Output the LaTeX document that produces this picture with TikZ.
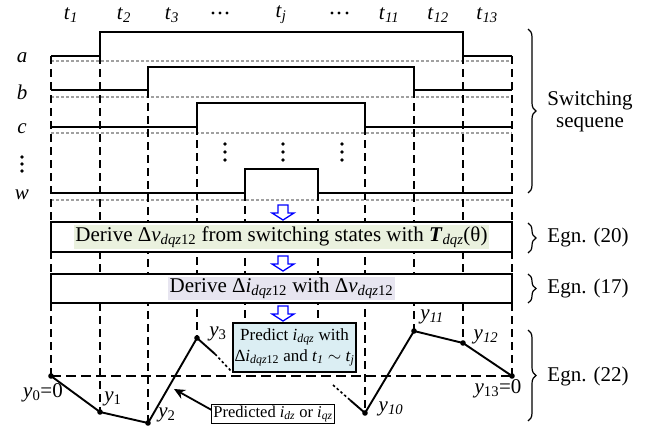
\documentclass[tikz,border=0pt]{standalone}
\usepackage{fontspec}
\setmainfont{Liberation Serif}
\usetikzlibrary{calc}
\usetikzlibrary{arrows.meta}
\usetikzlibrary{decorations.pathreplacing}

\definecolor{greenbg}{RGB}{234,241,222}
\definecolor{purplebg}{RGB}{231,229,240}
\definecolor{bluebg}{RGB}{219,238,243}
\definecolor{gridgrey}{RGB}{160,160,160}

\newcommand{\tlab}[1]{\textit{t}\textsubscript{\textit{#1}}}
\newcommand{\ylab}[1]{\textit{y}\textsubscript{#1}}
\newcommand{\dqz}[2]{#1\textit{#2}\textsubscript{\textit{dqz}12}}

\tikzset{
	signal/.style={line width=2pt},
	tline/.style={line width=1.4pt, dash pattern=on 8pt off 5pt},
	zeroline/.style={gridgrey, line width=1.2pt, dash pattern=on 3pt off 2pt},
	baseline/.style={line width=1.8pt, dash pattern=on 10pt off 5pt},
	curve/.style={line width=1.9pt, line join=round},
	fade/.style={line width=1.6pt, dash pattern=on 2.5pt off 2.5pt},
	stagebox/.style={draw, line width=1.3pt, fill=white, minimum width=461pt, inner sep=0pt},
	rbrace/.style={decorate, decoration={brace, amplitude=8pt}, line width=1.2pt},
	hollowdown/.pic={\draw[blue, line width=1.3pt, fill=white, line join=miter]
		(-5,0) -- (-5,8) -- (-11,8) -- (0,15) -- (11,8) -- (5,8) -- (5,0) -- cycle;}
}

\begin{document}
\begin{tikzpicture}[x=1pt, y=-1pt, font=\fontsize{21}{22}\selectfont]
	\useasboundingbox (0,0) rectangle (653,428);

	% time instants along the top
	\foreach \x/\lab/\name in {71/\tlab{1}/t1, 124/\tlab{2}/t2, 172/\tlab{3}/t3, 281/\tlab{j}/tj, 389/\tlab{11}/t11, 438/\tlab{12}/t12, 487/\tlab{13}/t13}
		\node (\name) at (\x,15) {\lab};
	\foreach \x in {213,220,227,332,339,347}
		\fill (\x,13) circle (1.7);

	% switching signals a, b, c, ..., w
	\foreach \lo/\hi/\up/\dn/\z/\name in {56/32/100/463/61/a, 90/67/148/414/97/b, 127/103/197/365/133/c, 193/169/245/318/200/w} {
		\draw[zeroline] (51,\z) -- (512,\z);
		\draw[signal] (51,\lo) -| (\up,\hi) -| (\dn,\lo) -- (512,\lo);
		\node (\name) at (22,\lo+2) {\textit{\name}};
	}
	\foreach \y in {157,164,171}
		\fill (22,\y) circle (1.8);
	\foreach \x in {225,283,342}
		\foreach \y in {144,152,160}
			\fill (\x,\y) circle (1.8);

	% predicted current points
	\coordinate (y0) at (51,376);
	\coordinate (y1) at (100,412);
	\coordinate (y2) at (148,423);
	\coordinate (y3) at (197,338);
	\coordinate (y10) at (365,413);
	\coordinate (y11) at (414,331);
	\coordinate (y12) at (463,343);
	\coordinate (y13) at (512,376);

	% dashed instants down to the points
	\foreach \x/\top/\p in {51/56/y0, 100/56/y1, 148/90/y2, 197/127/y3, 365/127/y10, 414/90/y11, 463/56/y12, 512/56/y13}
		\draw[tline] (\x,\top) -- (\p);
	\foreach \x in {245,318}
		\draw[tline] (\x,193) -- (\x,323);

	% derivation steps
	\node[stagebox, minimum height=30pt] (vbox) at (281.5,237) {};
	\node[fill=greenbg, inner sep=1.5pt] (vtext) at (vbox) {Derive \dqz{Δ}{v} from switching states with \textbf{\textit{T}}\textsubscript{\textit{dqz}}(θ)};
	\node[stagebox, minimum height=29pt] (ibox) at (281.5,288.5) {};
	\node[fill=purplebg, inner sep=1.5pt] (itext) at (ibox) {Derive \dqz{Δ}{i} with \dqz{Δ}{v}};
	\pic at (283,205) {hollowdown};
	\pic at (283,256) {hollowdown};
	\pic at (283,306) {hollowdown};

	\node[draw, line width=1.2pt, fill=bluebg, align=center, inner sep=1pt, minimum width=123pt, minimum height=49pt,
		font=\fontsize{17}{21}\selectfont] (predict) at (294.5,347.5)
		{Predict \textit{i}\textsubscript{\textit{dqz}} with\\\dqz{Δ}{i} and \tlab{1} $\sim$ \tlab{j}};

	% predicted trajectory
	\draw[baseline] (y0) -- (y13);
	\coordinate (f3a) at (215,354);
	\coordinate (f3b) at (232,372);
	\coordinate (f10a) at (350,400);
	\coordinate (f10b) at (333,385);
	\draw[curve] (y0) -- (y1) -- (y2) -- (y3) -- (f3a);
	\draw[fade] (f3a) -- (f3b);
	\draw[fade] (f10b) -- (f10a);
	\draw[curve] (f10a) -- (y10) -- (y11) -- (y12) -- (y13);
	\foreach \p in {y0,y1,y2,y3,y10,y11,y12,y13}
		\fill (\p) circle (2.8);

	\node (ly0) at (43,393) {\ylab{0}=0};
	\node (ly1) at (113,399) {\ylab{1}};
	\node (ly2) at (167,415) {\ylab{2}};
	\node (ly3) at (218,334) {\ylab{3}};
	\node (ly10) at (391,409) {\ylab{\textit{10}}};
	\node (ly11) at (432,317) {\ylab{\textit{11}}};
	\node (ly12) at (486,337) {\ylab{\textit{12}}};
	\node (ly13) at (498,389) {\ylab{13}=0};

	\node[draw, line width=0.9pt, fill=white, inner sep=1.5pt, font=\fontsize{16.5}{18}\selectfont] (pred) at (273,414)
		{Predicted \textit{i}\textsubscript{\textit{dz}} or \textit{i}\textsubscript{\textit{qz}}};
	\coordinate (tip) at (174,389);
	\draw[line width=1.8pt, -{Stealth[length=11pt, width=10pt]}] ($(pred.north west)!0.3!(pred.south west)$) -- (tip);

	% braces on the right
	\draw[rbrace] (528,29) -- (528,193);
	\node[align=center] (seq) at (590,111) {Switching\\sequene};
	\draw[rbrace] (528,223) -- (528,253);
	\node (eq20) at (588,237) {Egn. (20)};
	\draw[rbrace] (528,274) -- (528,303);
	\node (eq17) at (588,288) {Egn. (17)};
	\draw[rbrace] (528,330) -- (528,421);
	\node (eq22) at (588,376) {Egn. (22)};
\end{tikzpicture}
\end{document}
